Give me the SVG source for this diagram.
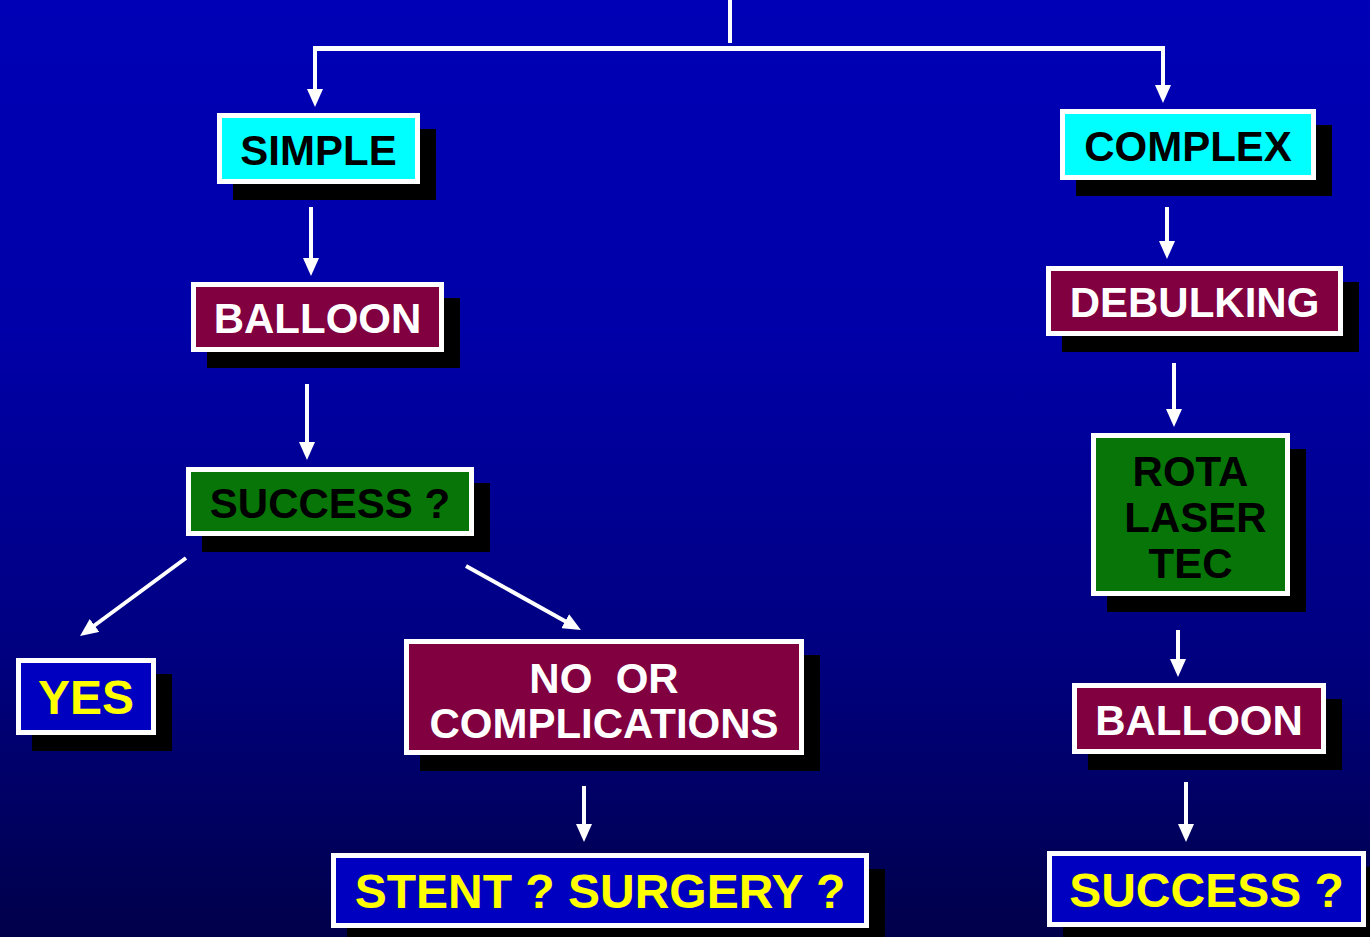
<svg xmlns="http://www.w3.org/2000/svg" width="1370" height="937" viewBox="0 0 1370 937">
<defs>
<linearGradient id="bg" x1="0" y1="0" x2="0" y2="1">
<stop offset="0" stop-color="#0000B6"/>
<stop offset="0.35" stop-color="#0000A8"/>
<stop offset="0.7" stop-color="#000080"/>
<stop offset="1" stop-color="#00004A"/>
</linearGradient>
<marker id="ah" viewBox="0 0 18 16" markerWidth="18" markerHeight="16" markerUnits="userSpaceOnUse" refX="1" refY="8" orient="auto">
<path d="M0,0 L18,8 L0,16 z" fill="#FFFFFF"/>
</marker>
</defs>
<style>
.sh{fill:#000000}
.bx{stroke:#FFFFFF;stroke-width:5}
.cy{fill:#00FFFF}
.mr{fill:#800040}
.gr{fill:#077507}
.bl{fill:#0000C0}
.t{font-family:"Liberation Sans",Arial,sans-serif;font-weight:bold;text-anchor:middle}
.t42{font-size:42px}
.t48{font-size:48px}
.tk{fill:#000000}
.tw{fill:#FFFFFF}
.ty{fill:#FFFF00}
.c{stroke:#FFFFFF;stroke-width:4;fill:none}
.ca{stroke:#FFFFFF;stroke-width:4;fill:none;marker-end:url(#ah)}
</style>
<rect x="0" y="0" width="1370" height="937" fill="url(#bg)"/>

<g id="connectors">
<line class="c" x1="730" y1="0" x2="730" y2="43"/>
<line class="c" x1="313" y1="48.5" x2="1165" y2="48.5" style="stroke-width:5"/>
<line class="ca" x1="315" y1="48" x2="315" y2="90"/>
<line class="ca" x1="1163" y1="48" x2="1163" y2="86"/>
<line class="ca" x1="311" y1="207" x2="311" y2="259"/>
<line class="ca" x1="307" y1="384" x2="307" y2="443"/>
<line class="ca" x1="186" y1="558" x2="93.7" y2="626"/>
<line class="ca" x1="466" y1="566" x2="566.1" y2="621.7"/>
<line class="ca" x1="584" y1="786" x2="584" y2="825"/>
<line class="ca" x1="1167" y1="207" x2="1167" y2="242"/>
<line class="ca" x1="1174" y1="363" x2="1174" y2="410"/>
<line class="ca" x1="1178" y1="630" x2="1178" y2="660"/>
<line class="ca" x1="1186" y1="782" x2="1186" y2="825"/>
</g>

<g id="simple">
<rect class="sh" x="233" y="129" width="203" height="71"/>
<rect class="bx cy" x="219.5" y="115.5" width="198" height="66"/>
<text class="t t42 tk" x="318.5" y="165">SIMPLE</text>
</g>

<g id="complex">
<rect class="sh" x="1076" y="125" width="256" height="71"/>
<rect class="bx cy" x="1062.5" y="111.5" width="251" height="66"/>
<text class="t t42 tk" x="1188" y="161">COMPLEX</text>
</g>

<g id="balloon-left">
<rect class="sh" x="207" y="298" width="253" height="70"/>
<rect class="bx mr" x="193.5" y="284.5" width="248" height="65"/>
<text class="t t42 tw" x="317.5" y="333">BALLOON</text>
</g>

<g id="success-left">
<rect class="sh" x="202" y="483" width="288" height="69"/>
<rect class="bx gr" x="188.5" y="469.5" width="283" height="64"/>
<text class="t t42 tk" x="330" y="518">SUCCESS ?</text>
</g>

<g id="yes">
<rect class="sh" x="32" y="674" width="140" height="77"/>
<rect class="bx bl" x="18.5" y="660.5" width="135" height="72"/>
<text class="t t48 ty" x="86" y="714">YES</text>
</g>

<g id="no-or-complications">
<rect class="sh" x="420" y="655" width="400" height="116"/>
<rect class="bx mr" x="406.5" y="641.5" width="395" height="111"/>
<text class="t t42 tw" x="604" y="693" xml:space="preserve">NO  OR</text>
<text class="t t42 tw" x="604" y="738">COMPLICATIONS</text>
</g>

<g id="stent-surgery">
<rect class="sh" x="347" y="869" width="538" height="75"/>
<rect class="bx bl" x="333.5" y="855.5" width="533" height="70"/>
<text class="t t48 ty" x="600" y="908">STENT ? SURGERY ?</text>
</g>

<g id="debulking">
<rect class="sh" x="1062" y="282" width="297" height="70"/>
<rect class="bx mr" x="1048.5" y="268.5" width="292" height="65"/>
<text class="t t42 tw" x="1194.5" y="317">DEBULKING</text>
</g>

<g id="rota-laser-tec">
<rect class="sh" x="1107" y="449" width="199" height="163"/>
<rect class="bx gr" x="1093.5" y="435.5" width="194" height="158"/>
<text class="t t42 tk" x="1190.5" y="486">ROTA</text>
<text class="t t42 tk" x="1195.5" y="532">LASER</text>
<text class="t t42 tk" x="1190.5" y="578">TEC</text>
</g>

<g id="balloon-right">
<rect class="sh" x="1088" y="699" width="254" height="71"/>
<rect class="bx mr" x="1074.5" y="685.5" width="249" height="66"/>
<text class="t t42 tw" x="1199" y="735">BALLOON</text>
</g>

<g id="success-right">
<rect class="sh" x="1063" y="867" width="319" height="76"/>
<rect class="bx bl" x="1049.5" y="853.5" width="314" height="71"/>
<text class="t t48 ty" x="1206.5" y="907">SUCCESS ?</text>
</g>
</svg>
